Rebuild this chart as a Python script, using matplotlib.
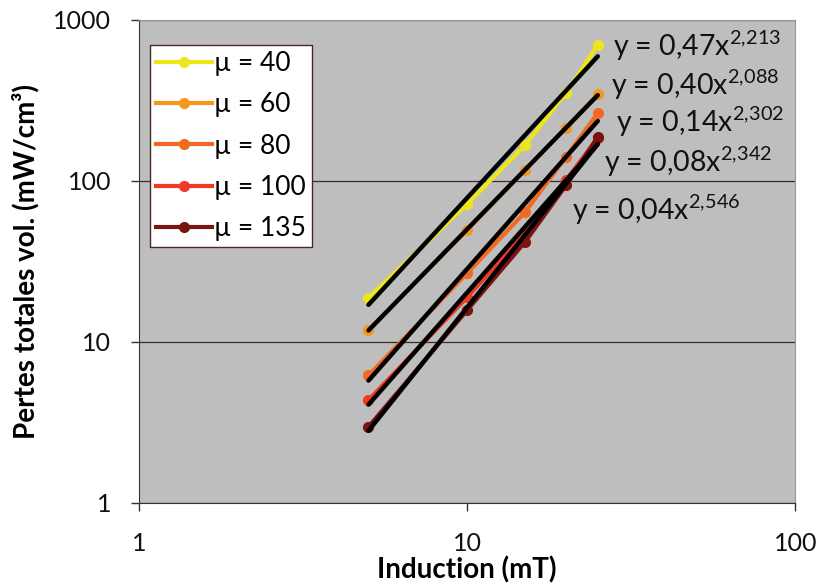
"""Pertes totales vs induction, log-log with power trend lines."""

import matplotlib

matplotlib.use("Agg")
import matplotlib.pyplot as plt
import numpy as np

plt.rcParams["font.family"] = ["Lato", "DejaVu Sans"]
plt.rcParams["mathtext.fontset"] = "custom"
plt.rcParams["mathtext.rm"] = "Lato"

# --- data ---
induction = [5, 10, 15, 20, 25]
labels = ["µ = 40", "µ = 60", "µ = 80", "µ = 100", "µ = 135"]
losses = [
    [18.8, 72, 167, 352, 700],   # mu 40
    [11.9, 49.6, 117, 213, 345],  # mu 60
    [6.2, 26.8, 64, 141, 264],   # mu 80
    [4.36, 19, 47.5, 101, 185],  # mu 100
    [2.97, 15.8, 41.8, 94, 188],  # mu 135
]
fit_text = ["0,47", "0,40", "0,14", "0,08", "0,04"]
fit_exp = ["2{,}213", "2{,}088", "2{,}302", "2{,}342", "2{,}546"]

colors = ["#EDE61A", "#F5961E", "#F26A22", "#EE3B26", "#7A1410"]
# equation label positions (axes fraction)
eq_pos = [(0.722, 0.948), (0.719, 0.866), (0.727, 0.789), (0.708, 0.706), (0.660, 0.607)]

fig = plt.figure(figsize=(8.19, 5.88), dpi=100)
ax = fig.add_axes([0.170, 0.1446, 0.801, 0.8214])
ax.set_facecolor("#BEBEBE")

for vals, col, lab in zip(losses, colors, labels):
    ax.plot(induction, vals, color=col, linewidth=3, marker="o",
            markersize=7, label=lab, zorder=3)

# power trend lines (least squares in log-log, as the spreadsheet does)
x_fit = np.array([min(induction), max(induction)], dtype=float)
for vals in losses:
    b, log_a = np.polyfit(np.log(induction), np.log(vals), 1)
    ax.plot(x_fit, np.exp(log_a) * x_fit ** b, color="black",
            linewidth=3.2, solid_capstyle="round", zorder=4)

for (px, py), t, e in zip(eq_pos, fit_text, fit_exp):
    ax.text(px, py, f"y = {t}x$^{{\\mathrm{{{e}}}}}$", transform=ax.transAxes,
            fontsize=20.5, va="center", ha="left", color="#111111", zorder=5)

ax.set_xscale("log")
ax.set_yscale("log")
ax.set_xlim(1, 100)
ax.set_ylim(1, 1000)
ax.set_xticks([1, 10, 100])
ax.set_xticklabels(["1", "10", "100"])
ax.set_yticks([1, 10, 100, 1000])
ax.set_yticklabels(["1", "10", "100", "1000"])
ax.minorticks_off()
ax.tick_params(axis="both", labelsize=18, length=6, width=1, color="#333333",
               direction="out", labelcolor="#111111")
ax.tick_params(axis="x", pad=15)
ax.tick_params(axis="y", pad=14)

ax.yaxis.grid(True, color="#3A2A2A", linewidth=0.9)
ax.set_axisbelow(True)
for side in ("left", "bottom"):
    ax.spines[side].set_color("#333333")
for side in ("top", "right"):
    ax.spines[side].set_color("#8A9AA5")

ax.set_xlabel("Induction (mT)", fontsize=20, fontweight="bold", labelpad=1)
ax.set_ylabel("Pertes totales vol. (mW/cm³)", fontsize=20, fontweight="bold",
              labelpad=10)

leg = ax.legend(loc="upper left", bbox_to_anchor=(0.017, 0.948), fontsize=19,
                frameon=True, fancybox=False, framealpha=1, edgecolor="#4A2A20",
                handlelength=2.1, handletextpad=0.1, labelspacing=0.62,
                borderpad=0.22, borderaxespad=0)
leg.get_frame().set_linewidth(1)

fig.savefig("out.png", dpi=100)
